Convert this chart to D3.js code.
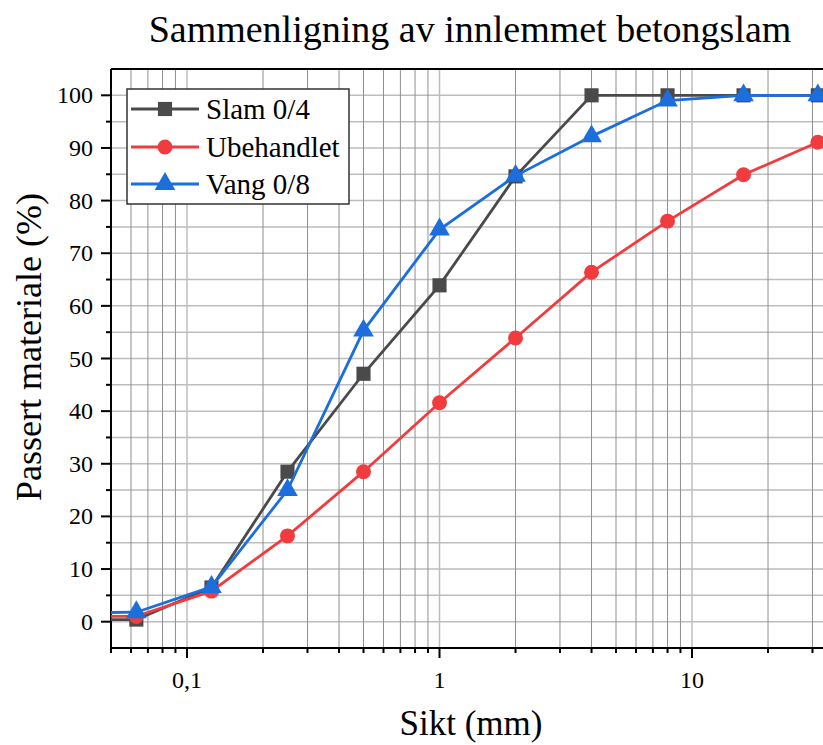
<!DOCTYPE html>
<html>
<head>
<meta charset="utf-8">
<script src="https://cdn.jsdelivr.net/npm/d3@7"></script>
<style>
  body { margin: 0; background: #fff; }
  svg { display: block; font-family: "Liberation Serif", "DejaVu Serif", serif; }
</style>
</head>
<body>
<svg id="chart" width="823" height="745"></svg>
<script>
// sieve sizes (mm); 0.02 is the pan (bunn) point drawn off the left edge
var sieves = [0.02, 0.063, 0.125, 0.25, 0.5, 1, 2, 4, 8, 16, 31.5];
var slam = [0.3, 0.4, 6.5, 28.5, 47.1, 63.9, 84.6, 100, 100, 100, 100];
var ubehandlet = [1.1, 1.0, 5.8, 16.3, 28.5, 41.6, 53.9, 66.4, 76.1, 84.9, 91.1];
var vang = [1.5, 1.8, 6.6, 25.0, 55.3, 74.5, 84.7, 92.2, 99.0, 100, 100];
var seriesNames = ["Slam 0/4", "Ubehandlet", "Vang 0/8"];
var seriesColors = ["#4a4a4a", "#f03c3e", "#1c6edc"];
var seriesShapes = ["square", "circle", "triangle"];
var xTickLabels = ["0,1", "1", "10"];
var yTicks = [0, 10, 20, 30, 40, 50, 60, 70, 80, 90, 100];

var margin = { top: 69, left: 111, bottom: 648 };
var svg = d3.select('#chart');

var x = d3.scaleLog().domain([0.05, 50]).range([margin.left, margin.left + 757.5]);
var y = d3.scaleLinear().domain([-5, 105]).range([margin.bottom, margin.top]);

// minor / major positions
var minorX = [];
[0.01, 0.1, 1, 10].forEach(function(dec) {
    for (var k = 1; k <= 9; k++) {
        var v = +(dec * k).toPrecision(3);
        if (v >= 0.05 && v <= 50) minorX.push(v);
    }
});
var majorX = [0.1, 1, 10];
var minorY = d3.range(-5, 106, 5).filter(v => v % 10 !== 0 && v > -5 && v < 105);

svg.append('defs').append('clipPath').attr('id', 'plot-clip')
    .append('rect')
    .attr('x', margin.left).attr('y', margin.top)
    .attr('width', 823 - margin.left).attr('height', margin.bottom - margin.top);

// grid
var grid = svg.append('g');
grid.selectAll('line.hminor')
    .data(minorY.concat(yTicks))
    .enter().append('line')
    .attr('x1', margin.left).attr('x2', 823)
    .attr('y1', d => y(d)).attr('y2', d => y(d))
    .attr('stroke', '#bdbdbd').attr('stroke-width', 1.5);
grid.selectAll('line.vminor')
    .data(minorX.filter(v => majorX.indexOf(v) < 0))
    .enter().append('line')
    .attr('x1', d => x(d)).attr('x2', d => x(d))
    .attr('y1', margin.top).attr('y2', margin.bottom)
    .attr('stroke', '#8f8f8f').attr('stroke-width', 1);
grid.selectAll('line.vmajor')
    .data(majorX)
    .enter().append('line')
    .attr('x1', d => x(d)).attr('x2', d => x(d))
    .attr('y1', margin.top).attr('y2', margin.bottom)
    .attr('stroke', '#bdbdbd').attr('stroke-width', 1.5);

// axes
var axisG = svg.append('g').attr('stroke', '#000');
axisG.append('line').attr('x1', margin.left).attr('x2', 823)
    .attr('y1', margin.top).attr('y2', margin.top).attr('stroke-width', 2);
axisG.append('line').attr('x1', margin.left).attr('x2', 823)
    .attr('y1', margin.bottom).attr('y2', margin.bottom).attr('stroke-width', 2);
axisG.append('line').attr('x1', margin.left).attr('x2', margin.left)
    .attr('y1', margin.top).attr('y2', margin.bottom + 1).attr('stroke-width', 2);

// x ticks
axisG.selectAll('line.xt')
    .data(minorX)
    .enter().append('line')
    .attr('x1', d => x(d)).attr('x2', d => x(d))
    .attr('y1', margin.bottom)
    .attr('y2', d => margin.bottom + (majorX.indexOf(d) >= 0 ? 10 : 5))
    .attr('stroke-width', 2);
svg.selectAll('text.xlab')
    .data(majorX)
    .enter().append('text')
    .attr('x', d => x(d)).attr('y', 688)
    .attr('text-anchor', 'middle')
    .attr('font-size', 24)
    .text((d, i) => xTickLabels[i]);

// y ticks
axisG.selectAll('line.yt')
    .data(yTicks.concat(minorY))
    .enter().append('line')
    .attr('x1', d => margin.left - (d % 10 === 0 ? 10 : 5)).attr('x2', margin.left)
    .attr('y1', d => y(d)).attr('y2', d => y(d))
    .attr('stroke-width', 2);
svg.selectAll('text.ylab')
    .data(yTicks)
    .enter().append('text')
    .attr('x', 93).attr('y', d => y(d) + 8)
    .attr('text-anchor', 'end')
    .attr('font-size', 24)
    .text(d => d);

// series
var symbolFor = {
    square: d3.symbol().type(d3.symbolSquare).size(200),
    circle: d3.symbol().type(d3.symbolCircle).size(175),
    triangle: d3.symbol().type(d3.symbolTriangle).size(185)
};
var allSeries = [slam, ubehandlet, vang];
var line = d3.line().x(d => x(d[0])).y(d => y(d[1]));
var plot = svg.append('g').attr('clip-path', 'url(#plot-clip)');

allSeries.forEach(function(vals, si) {
    var pts = sieves.map((s, i) => [s, vals[i]]);
    plot.append('path')
        .attr('d', line(pts))
        .attr('fill', 'none')
        .attr('stroke', seriesColors[si])
        .attr('stroke-width', 2.8);
    plot.selectAll('path.m' + si)
        .data(pts.slice(1))
        .enter().append('path')
        .attr('d', symbolFor[seriesShapes[si]])
        .attr('transform', d => 'translate(' + x(d[0]) + ',' + y(d[1]) + ')')
        .attr('fill', seriesColors[si]);
});

// legend
var legend = svg.append('g');
legend.append('rect')
    .attr('x', 127).attr('y', 89).attr('width', 222).attr('height', 115)
    .attr('fill', '#fff').attr('stroke', '#333').attr('stroke-width', 1.5);
var rowY = [109, 147, 184];
seriesNames.forEach(function(name, i) {
    legend.append('line')
        .attr('x1', 131).attr('x2', 199)
        .attr('y1', rowY[i]).attr('y2', rowY[i])
        .attr('stroke', seriesColors[i]).attr('stroke-width', 2.8);
    legend.append('path')
        .attr('d', symbolFor[seriesShapes[i]])
        .attr('transform', 'translate(165,' + rowY[i] + ')')
        .attr('fill', seriesColors[i]);
    legend.append('text')
        .attr('x', 206).attr('y', rowY[i] + 10)
        .attr('font-size', 29)
        .text(name);
});

// titles
svg.append('text')
    .attr('x', 470).attr('y', 42)
    .attr('text-anchor', 'middle')
    .attr('font-size', 38)
    .text('Sammenligning av innlemmet betongslam');
svg.append('text')
    .attr('x', 471).attr('y', 735)
    .attr('text-anchor', 'middle')
    .attr('font-size', 35)
    .text('Sikt (mm)');
svg.append('text')
    .attr('transform', 'translate(41,347) rotate(-90)')
    .attr('text-anchor', 'middle')
    .attr('font-size', 36)
    .text('Passert materiale (%)');
</script>
</body>
</html>
